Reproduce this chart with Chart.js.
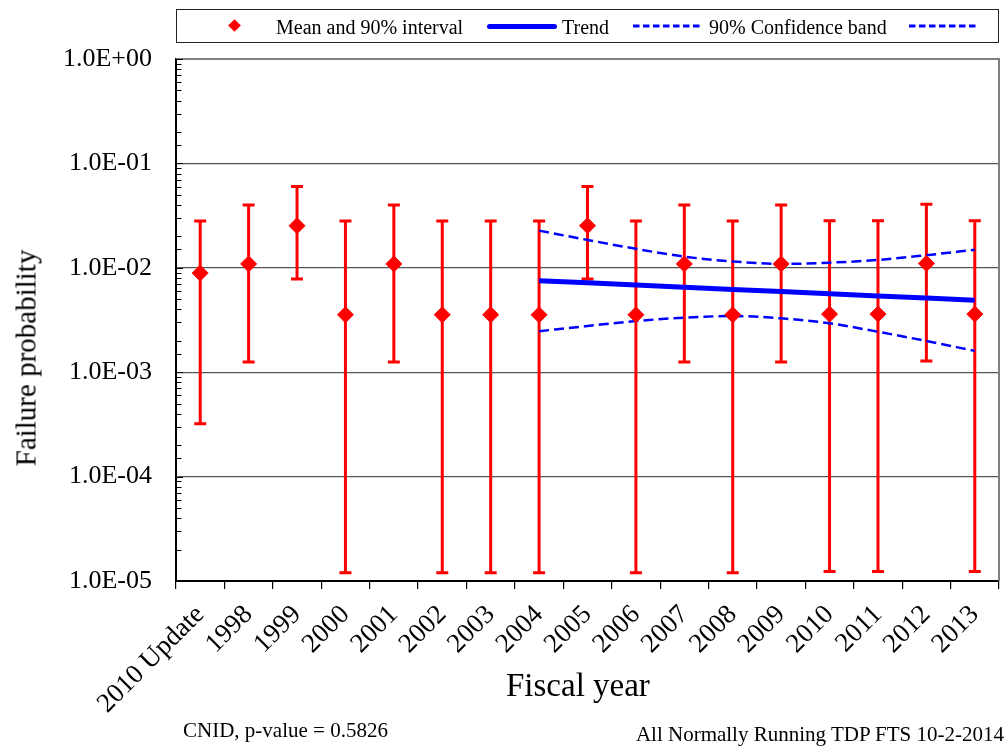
<!DOCTYPE html>
<html><head><meta charset="utf-8">
<script src="https://cdn.jsdelivr.net/npm/chart.js@4.4.1/dist/chart.umd.min.js"></script>
<style>
html,body{margin:0;padding:0;background:#fff;}
#wrap{position:relative;width:1008px;height:747px;overflow:hidden;font-family:'Liberation Serif','Times New Roman',serif;color:#000;}
#c{position:absolute;left:0;top:0;}
.t{position:absolute;white-space:nowrap;}
</style></head><body>
<div id="wrap">
<canvas id="c" width="1008" height="747"></canvas>
<div style="position:absolute;left:176px;top:9px;width:823px;height:34px;border:1.5px solid #222;box-sizing:border-box;"></div>
<div style="position:absolute;left:230px;top:21px;width:9px;height:9px;background:#ff0000;transform:rotate(45deg);"></div>
<div class="t" style="left:276px;top:16.5px;font-size:20px;line-height:20px;">Mean and 90% interval</div>
<div style="position:absolute;left:487px;top:24px;width:70px;height:5px;background:#0000ff;border-radius:2.5px;"></div>
<div class="t" style="left:562px;top:16.5px;font-size:20px;line-height:20px;">Trend</div>
<svg style="position:absolute;left:633px;top:23px;" width="68" height="6"><line x1="0" y1="3" x2="68" y2="3" stroke="#0000ff" stroke-width="3" stroke-dasharray="6.5 3.5"/></svg>
<div class="t" style="left:709px;top:16.5px;font-size:20px;line-height:20px;">90% Confidence band</div>
<svg style="position:absolute;left:909px;top:23px;" width="68" height="6"><line x1="0" y1="3" x2="68" y2="3" stroke="#0000ff" stroke-width="3" stroke-dasharray="6.5 3.5"/></svg>
<div class="t" style="left:26px;top:357.5px;font-size:29px;line-height:29px;transform:translate(-50%,-50%) rotate(-90deg);">Failure probability</div>
<div class="t" style="left:506px;top:669px;font-size:33px;line-height:33px;">Fiscal year</div>
<div class="t" style="left:183px;top:719.5px;font-size:21px;line-height:21px;">CNID, p-value = 0.5826</div>
<div class="t" style="right:4px;top:724px;font-size:21px;line-height:21px;">All Normally Running TDP FTS 10-2-2014</div>
</div>
<script>
const categories = ['2010 Update','1998','1999','2000','2001','2002','2003','2004','2005','2006','2007','2008','2009','2010','2011','2012','2013'];
const meanValues = [0.0089,0.0109,0.0253,0.00355,0.0109,0.00355,0.00355,0.00355,0.0253,0.00355,0.0109,0.00355,0.0109,0.0036,0.0036,0.0110,0.0036];
const upper90 = [0.028,0.040,0.060,0.028,0.040,0.028,0.028,0.028,0.060,0.028,0.040,0.028,0.040,0.0283,0.0283,0.0406,0.0283];
const lower90 = [0.00032,0.00125,0.0078,0.000012,0.00125,0.000012,0.000012,0.000012,0.0078,0.000012,0.00125,0.000012,0.00125,0.0000123,0.0000123,0.00128,0.0000123];
const trendValues = [null,null,null,null,null,null,null,0.00753,0.00718,0.00684,0.00652,0.00621,0.00592,0.00564,0.00538,0.00513,0.00489];
const bandUpper = [null,null,null,null,null,null,null,0.0227,0.0185,0.0152,0.0128,0.0115,0.0109,0.0112,0.0119,0.0132,0.0149];
const bandLower = [null,null,null,null,null,null,null,0.00247,0.00277,0.00309,0.00333,0.00345,0.00328,0.00294,0.00244,0.00199,0.0016];
const yMin = 1e-5, yMax = 1;

function isMajor(v){ const l = Math.log10(v); return Math.abs(l - Math.round(l)) < 1e-9; }
function fmt(v){ return v.toExponential(1).toUpperCase().replace(/E([+-])(\d)$/, 'E$10$2'); }

const errorBars = {
  id: 'errorBars',
  beforeDatasetsDraw(chart){
    const {ctx, scales:{x, y}} = chart;
    ctx.save();
    ctx.strokeStyle = '#ff0000';
    ctx.lineWidth = 3;
    categories.forEach((c, i) => {
      const px = x.getPixelForValue(i);
      const yt = y.getPixelForValue(upper90[i]);
      const yb = y.getPixelForValue(lower90[i]);
      ctx.beginPath();
      ctx.moveTo(px, yt); ctx.lineTo(px, yb);
      ctx.moveTo(px - 6, yt); ctx.lineTo(px + 6, yt);
      ctx.moveTo(px - 6, yb); ctx.lineTo(px + 6, yb);
      ctx.stroke();
    });
    ctx.restore();
  }
};

const frame = {
  id: 'frame',
  afterDraw(chart){
    const {ctx, chartArea:a, scales:{y}} = chart;
    ctx.save();
    ctx.strokeStyle = '#808080';
    ctx.lineWidth = 2;
    ctx.beginPath();
    ctx.moveTo(a.left, a.top); ctx.lineTo(a.right, a.top); ctx.lineTo(a.right, a.bottom);
    ctx.stroke();
    ctx.strokeStyle = '#000';
    ctx.lineWidth = 1.2;
    ctx.beginPath();
    y.ticks.forEach(t => {
      if (t.value < yMin || t.value > yMax) return;
      const py = Math.round(y.getPixelForValue(t.value)) + 0.5;
      const len = isMajor(t.value) ? 7 : 5.5;
      ctx.moveTo(a.left, py); ctx.lineTo(a.left + len, py);
    });
    ctx.stroke();
    ctx.restore();
  }
};

new Chart(document.getElementById('c'), {
  type: 'line',
  data: {
    labels: categories,
    datasets: [
      { label: 'Mean and 90% interval', data: meanValues, showLine: false, pointStyle: 'rectRot', pointRadius: 8, pointBorderWidth: 1, backgroundColor: '#ff0000', borderColor: '#ff0000', order: 0 },
      { label: 'Trend', data: trendValues, borderColor: '#0000ff', borderWidth: 5, pointRadius: 0, order: 1 },
      { label: '90% Confidence band', data: bandUpper, borderColor: '#0000ff', borderWidth: 2.5, borderDash: [10, 5], pointRadius: 0, cubicInterpolationMode: 'monotone', order: 2 },
      { label: '90% Confidence band (lower)', data: bandLower, borderColor: '#0000ff', borderWidth: 2.5, borderDash: [10, 5], pointRadius: 0, cubicInterpolationMode: 'monotone', order: 3 }
    ]
  },
  options: {
    responsive: false,
    animation: false,
    layout: { padding: { left: 0, top: 59, right: 6, bottom: 0 } },
    plugins: { legend: { display: false }, tooltip: { enabled: false } },
    scales: {
      x: {
        type: 'category',
        offset: true,
        grid: { offset: true, drawOnChartArea: false, drawTicks: true, tickLength: 8, color: '#000', lineWidth: 1.2 },
        border: { display: true, color: '#000', width: 2 },
        ticks: { autoSkip: false, minRotation: 45, maxRotation: 45, padding: 10, color: '#000', font: { family: "'Liberation Serif'", size: 27 } },
        afterFit(s){ s.height = 166; }
      },
      y: {
        type: 'logarithmic',
        min: yMin, max: yMax,
        grid: { drawTicks: false, color: (c) => (c.tick && isMajor(c.tick.value)) ? '#555' : 'rgba(0,0,0,0)', lineWidth: 1.2 },
        border: { display: true, color: '#000', width: 2 },
        ticks: { autoSkip: false, padding: 24, color: '#000', font: { family: "'Liberation Serif'", size: 26 }, callback: (v) => isMajor(v) ? fmt(v) : '' },
        afterFit(s){ s.width = 176; }
      }
    }
  },
  plugins: [errorBars, frame]
});
</script>
</body></html>
